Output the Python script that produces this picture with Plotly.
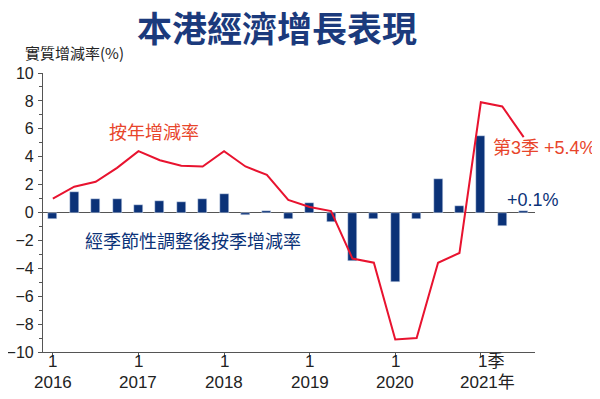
import plotly.graph_objects as go

quarters = ["2016Q1","2016Q2","2016Q3","2016Q4","2017Q1","2017Q2","2017Q3","2017Q4",
            "2018Q1","2018Q2","2018Q3","2018Q4","2019Q1","2019Q2","2019Q3","2019Q4",
            "2020Q1","2020Q2","2020Q3","2020Q4","2021Q1","2021Q2","2021Q3"]
yoy = [1.0, 1.85, 2.2, 3.2, 4.4, 3.75, 3.35, 3.3,
       4.4, 3.3, 2.7, 0.9, 0.4, 0.1, -3.3, -3.6,
       -9.1, -9.0, -3.6, -2.9, 7.9, 7.6, 5.4]
qoq = [-0.5, 1.5, 1.0, 1.0, 0.55, 0.85, 0.75, 1.0,
       1.35, -0.2, 0.1, -0.45, 0.65, -0.7, -3.5, -0.5,
       -5.0, -0.5, 2.4, 0.45, 5.5, -1.0, 0.1]
year_ticks = [0, 4, 8, 12, 16, 20]
quarter_labels = ["1", "1", "1", "1", "1", "1季"]
year_labels = ["2016", "2017", "2018", "2019", "2020", "2021年"]
y_ticks = list(range(-10, 11, 2))

NAVY = "#0b3278"
RED = "#e8132f"
ORANGE = "#e8452b"
FONT = "Liberation Sans Narrow, Liberation Sans, Arial, sans-serif"
CJK = "Noto Sans CJK TC, Noto Sans CJK SC, sans-serif"

O = 8  # page body margin
W, H = 600 - O, 399 - O
# plot area in page pixels
L, R, T, B = 43, 535, 72.7, 352
pw, ph = R - L, B - T

x = list(range(len(quarters)))

fig = go.Figure()
fig.add_trace(go.Bar(x=x, y=qoq, marker_color=NAVY, width=0.42, showlegend=False))
fig.add_trace(go.Scatter(x=x, y=yoy, mode="lines", line=dict(color=RED, width=2), showlegend=False))

fig.add_shape(type="line", xref="x", yref="y", x0=-0.46, x1=22.53, y0=0, y1=0,
              line=dict(color="#555555", width=1.2), layer="below")


def px(xp, yp):
    return (xp - L) / pw, (B - yp) / ph


annotations = []
for xi, ql, yl in zip(year_ticks, quarter_labels, year_labels):
    is_last = ql == "1季"
    annotations.append(dict(x=xi - (0.22 if is_last else 0), y=px(0, 362)[1], xref="x", yref="paper",
                            text=ql, showarrow=False,
                            xanchor="left" if is_last else "center", yanchor="middle",
                            font=dict(family=FONT + ", " + CJK, size=17, color="#222222")))
    annotations.append(dict(x=xi + (0.3 if is_last else 0), y=px(0, 383)[1], xref="x", yref="paper",
                            text=yl, showarrow=False, xanchor="center", yanchor="middle",
                            font=dict(family=FONT + ", " + CJK, size=17, color="#222222")))

pix_texts = [
    (277, 26, "<b>本港經濟增長表現</b>", CJK, 35, "#1b3a7c"),
    (74, 52, "實質增減率(%)", CJK, 15, "#222222"),
    (154, 131, "按年增減率", CJK, 18, ORANGE),
    (193, 240, "經季節性調整後按季增減率", CJK, 18, NAVY),
    (544, 148, "第3季 +5.4%", FONT + ", " + CJK, 18, ORANGE),
    (533, 200, "+0.1%", FONT, 18, NAVY),
]
for xp, yp, txt, fam, sz, col in pix_texts:
    ax, ay = px(xp, yp)
    annotations.append(dict(x=ax, y=ay, xref="paper", yref="paper", text=txt, showarrow=False,
                            xanchor="center", yanchor="middle",
                            font=dict(family=fam, size=sz, color=col)))

fig.update_layout(
    width=W, height=H,
    margin=dict(l=L - O, r=600 - R, t=T - O, b=399 - B, autoexpand=False),
    paper_bgcolor="white", plot_bgcolor="white",
    bargap=0,
    annotations=annotations,
    xaxis=dict(range=[-0.46, 22.53], showgrid=False, zeroline=False, automargin=False,
               showticklabels=False, showline=True, linecolor="#555555", linewidth=1.2,
               tickvals=year_ticks, ticks="outside", ticklen=4, tickcolor="#555555"),
    yaxis=dict(range=[-10, 10], tickvals=y_ticks, showgrid=False, zeroline=False, automargin=False,
               showline=True, linecolor="#555555", linewidth=1.2,
               ticks="outside", ticklen=4, tickcolor="#555555",
               tickfont=dict(family=FONT, size=16, color="#222222"),
               minor=dict(dtick=1, ticks="outside", ticklen=3, tickcolor="#555555"),
               ticklabelstandoff=1),
)

fig.write_html("out.html")
